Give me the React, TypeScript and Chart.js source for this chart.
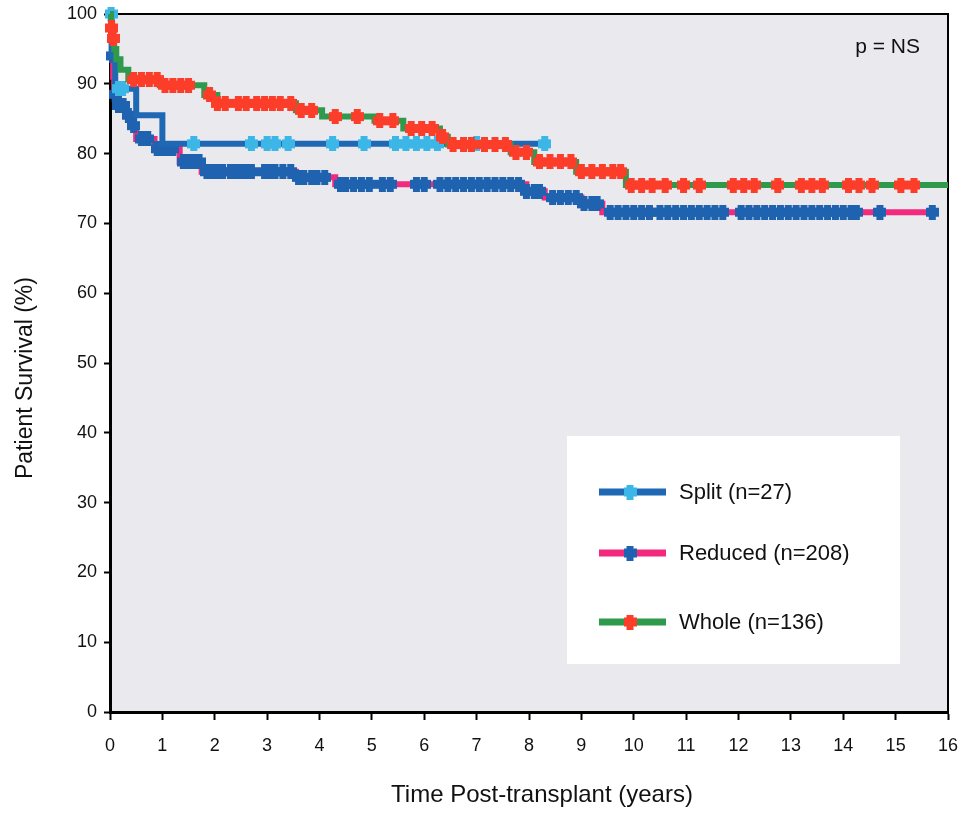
import React, { useEffect, useRef } from "react";
import { Chart, registerables } from "chart.js";

Chart.register(...registerables);

const FONT = '"Liberation Sans", Arial, Helvetica, sans-serif';

// Axis ticks
const yearTicks = [0, 1, 2, 3, 4, 5, 6, 7, 8, 9, 10, 11, 12, 13, 14, 15, 16];
const survivalTicks = [0, 10, 20, 30, 40, 50, 60, 70, 80, 90, 100];

// Kaplan-Meier steps: survival (%) holds from each time (years) until the next one
const splitTimes = [0, 0.03, 0.1, 0.5, 1.0, 8.35];
const splitSurvival = [100, 94, 89.3, 85.5, 81.4, 81.4];
const splitCensored = [0.02, 0.16, 0.24, 1.6, 2.7, 3.0, 3.15, 3.4, 4.25, 4.85, 5.45, 5.65, 5.85, 6.05, 6.25, 7.0, 8.3];

const reducedTimes = [0, 0.02, 0.04, 0.06, 0.08, 0.12, 0.3, 0.4, 0.5, 0.85, 1.33, 1.75, 3.55, 4.3, 7.95, 8.3, 9.0, 9.4, 15.7];
const reducedSurvival = [100, 97, 94, 91, 88.5, 86.9, 85.5, 84, 82.1, 80.7, 78.8, 77.4, 76.6, 75.6, 74.6, 73.7, 72.8, 71.6, 71.6];
const reducedCensored = [
  0.05, 0.1, 0.16, 0.25, 0.35, 0.45, 0.6, 0.72, 0.9, 1.0, 1.1, 1.2, 1.4, 1.5, 1.6, 1.7, 1.85, 1.95,
  2.05, 2.15, 2.3, 2.4, 2.5, 2.6, 2.7, 2.95, 3.05, 3.15, 3.3, 3.45, 3.6, 3.7, 3.85, 3.95, 4.1, 4.4,
  4.5, 4.65, 4.8, 4.95, 5.2, 5.35, 5.85, 6.0, 6.3, 6.45, 6.6, 6.75, 6.9, 7.05, 7.2, 7.35, 7.5, 7.65,
  7.8, 7.95, 8.1, 8.2, 8.45, 8.6, 8.75, 8.9, 9.05, 9.2, 9.3, 9.55, 9.7, 9.85, 10.0, 10.15, 10.3,
  10.5, 10.65, 10.8, 10.95, 11.1, 11.25, 11.4, 11.55, 11.7, 12.05, 12.2, 12.35, 12.5, 12.65, 12.8,
  12.95, 13.1, 13.25, 13.4, 13.55, 13.7, 13.85, 14.0, 14.15, 14.25, 14.7, 15.7,
];

const wholeTimes = [0, 0.02, 0.05, 0.08, 0.12, 0.2, 0.35, 0.95, 1.8, 2.05, 3.55, 4.05, 5.05, 5.6, 6.3, 6.45, 7.65, 8.1, 8.9, 9.85, 16];
const wholeSurvival = [100, 98, 96.5, 95, 93.5, 92, 90.6, 89.8, 88.4, 87.2, 86.2, 85.3, 84.7, 83.6, 82.4, 81.3, 80.2, 78.8, 77.4, 75.5, 75.5];
const wholeCensored = [
  0.03, 0.06, 0.45, 0.6, 0.75, 0.9, 1.05, 1.2, 1.35, 1.5, 1.9, 2.05, 2.2, 2.45, 2.6, 2.8, 2.95, 3.1,
  3.25, 3.45, 3.65, 3.85, 4.3, 4.72, 5.15, 5.4, 5.75, 5.95, 6.15, 6.35, 6.55, 6.75, 6.9, 7.15, 7.35,
  7.55, 7.75, 7.95, 8.2, 8.4, 8.6, 8.8, 9.0, 9.2, 9.4, 9.6, 9.75, 9.95, 10.15, 10.35, 10.6, 10.95,
  11.25, 11.9, 12.1, 12.3, 12.75, 13.2, 13.4, 13.6, 14.1, 14.3, 14.55, 15.1, 15.35,
];

const seriesLabels = ["Split (n=27)", "Reduced (n=208)", "Whole (n=136)"];
const lineColors = ["#1f68b4", "#f2297c", "#2f9a4c"];
const markerColors = ["#3bb6e6", "#1f63b0", "#fb3d2a"];

const xTitle = "Time Post-transplant (years)";
const yTitle = "Patient Survival (%)";
const pNote = "p = NS";

function survivalAt(times: number[], surv: number[], t: number): number {
  let v = surv[0];
  for (let i = 0; i < times.length; i++) {
    if (times[i] <= t) v = surv[i];
  }
  return v;
}

// Chunky plus-shaped censor mark
function makePlus(color: string): HTMLCanvasElement {
  const c = document.createElement("canvas");
  const w = 13;
  const h = 15;
  c.width = w;
  c.height = h;
  const g = c.getContext("2d")!;
  g.fillStyle = color;
  g.fillRect(3, 0, 7, h);
  g.fillRect(0, 3, w, 9);
  return c;
}

export default function App() {
  const canvasRef = useRef<HTMLCanvasElement | null>(null);

  useEffect(() => {
    const canvas = canvasRef.current;
    if (!canvas) return;

    const groups = [
      { times: splitTimes, surv: splitSurvival, cens: splitCensored },
      { times: reducedTimes, surv: reducedSurvival, cens: reducedCensored },
      { times: wholeTimes, surv: wholeSurvival, cens: wholeCensored },
    ];
    const plusImgs = markerColors.map((c) => makePlus(c));

    // draw order (top first): whole, split, reduced
    const orderOf = [2, 4, 0];
    const datasets: any[] = [];
    groups.forEach((g, i) => {
      datasets.push({
        label: seriesLabels[i],
        data: g.times.map((t, k) => ({ x: t, y: g.surv[k] })),
        stepped: true,
        borderColor: lineColors[i],
        borderWidth: 6,
        pointRadius: 0,
        fill: false,
        order: orderOf[i] + 1,
        clip: 6,
      });
      datasets.push({
        label: seriesLabels[i] + " censored",
        data: g.cens.map((t) => ({ x: t, y: survivalAt(g.times, g.surv, t) })),
        showLine: false,
        pointStyle: plusImgs[i],
        pointRadius: 6,
        order: orderOf[i],
        clip: 10,
      });
    });

    const framePlugin = {
      id: "frame",
      beforeDraw(chart: any) {
        const { ctx, chartArea: a } = chart;
        ctx.save();
        ctx.fillStyle = "#ffffff";
        ctx.fillRect(0, 0, chart.width, chart.height);
        ctx.fillStyle = "#e9e9ee";
        ctx.fillRect(a.left, a.top, a.right - a.left, a.bottom - a.top);
        ctx.restore();
      },
      beforeDatasetsDraw(chart: any) {
        const { ctx, chartArea: a } = chart;
        ctx.save();
        ctx.strokeStyle = "#000";
        ctx.lineWidth = 2;
        ctx.beginPath();
        ctx.moveTo(a.left, a.top);
        ctx.lineTo(a.right, a.top);
        ctx.lineTo(a.right, a.bottom);
        ctx.stroke();
        ctx.restore();
      },
      afterDraw(chart: any) {
        const { ctx } = chart;
        ctx.save();
        ctx.fillStyle = "#111";
        // axis titles
        ctx.font = `24px ${FONT}`;
        ctx.textAlign = "center";
        ctx.textBaseline = "alphabetic";
        ctx.fillText(xTitle, 542, 802);
        ctx.save();
        ctx.translate(32, 378);
        ctx.rotate(-Math.PI / 2);
        ctx.font = `23px ${FONT}`;
        ctx.fillText(yTitle, 0, 0);
        ctx.restore();
        // p value note
        ctx.font = `21px ${FONT}`;
        ctx.textAlign = "right";
        ctx.fillText(pNote, 920, 53);

        // legend box
        const bx = 567, by = 436, bw = 333, bh = 228;
        ctx.fillStyle = "#ffffff";
        ctx.fillRect(bx, by, bw, bh);
        const rows = [492, 553, 622];
        rows.forEach((ry, i) => {
          ctx.strokeStyle = lineColors[i];
          ctx.lineWidth = 7;
          ctx.beginPath();
          ctx.moveTo(599, ry);
          ctx.lineTo(666, ry);
          ctx.stroke();
          const img = plusImgs[i];
          ctx.drawImage(img, 630 - img.width / 2, ry - img.height / 2);
          ctx.fillStyle = "#111";
          ctx.font = `22px ${FONT}`;
          ctx.textAlign = "left";
          ctx.textBaseline = "middle";
          ctx.fillText(seriesLabels[i], 679, ry + 1);
        });
        ctx.restore();
      },
    };

    const chart = new Chart(canvas, {
      type: "line",
      data: { datasets },
      options: {
        animation: false,
        responsive: false,
        maintainAspectRatio: false,
        devicePixelRatio: 1,
        layout: { padding: { top: 14, right: 13, left: 0, bottom: 0 } },
        plugins: {
          legend: { display: false },
          tooltip: { enabled: false },
          title: { display: false },
        },
        scales: {
          x: {
            type: "linear",
            min: 0,
            max: 16,
            afterFit: (s: any) => {
              s.height = 102;
              s.paddingLeft = 0;
              s.paddingRight = 0;
            },
            afterBuildTicks: (s: any) => {
              s.ticks = yearTicks.map((v) => ({ value: v }));
            },
            ticks: {
              color: "#111",
              font: { family: FONT, size: 18 },
              padding: 15,
              maxRotation: 0,
              autoSkip: false,
            },
            grid: {
              drawOnChartArea: false,
              drawTicks: true,
              tickLength: 8,
              tickWidth: 2,
              tickColor: "#000",
              color: "#000",
            },
            border: { display: true, color: "#000", width: 3 },
          },
          y: {
            type: "linear",
            min: 0,
            max: 100,
            afterFit: (s: any) => {
              s.width = 110;
              s.paddingTop = 0;
              s.paddingBottom = 0;
            },
            afterBuildTicks: (s: any) => {
              s.ticks = survivalTicks.map((v) => ({ value: v }));
            },
            ticks: {
              color: "#111",
              font: { family: FONT, size: 18 },
              padding: 7,
              autoSkip: false,
            },
            grid: {
              drawOnChartArea: false,
              drawTicks: true,
              tickLength: 6,
              tickWidth: 2,
              tickColor: "#000",
              color: "#000",
            },
            border: { display: true, color: "#000", width: 3 },
          },
        },
      },
      plugins: [framePlugin],
    });

    return () => {
      chart.destroy();
    };
  }, []);

  return (
    <div style={{ position: "absolute", left: 0, top: 0, width: 961, height: 814 }}>
      <canvas ref={canvasRef} width={961} height={814} style={{ display: "block" }} />
    </div>
  );
}
